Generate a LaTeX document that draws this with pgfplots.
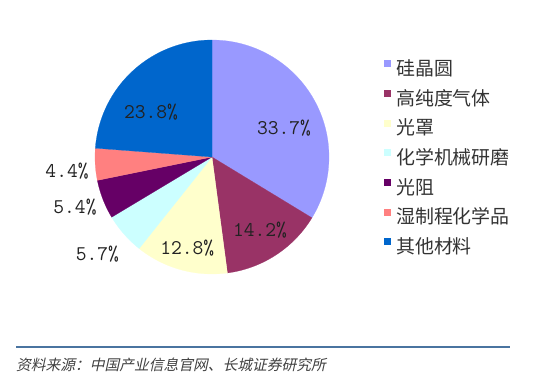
\documentclass[border=0pt]{standalone}
\usepackage{fontspec}
\usepackage{pgfplots}
\usepackage{pgfplotstable}
\pgfplotsset{compat=1.18}
\newfontfamily\cjk{Noto Sans CJK SC}
\newfontfamily\cjkit{Noto Sans CJK SC}[FakeSlant=0.22]
\definecolor{pieA}{HTML}{9999FF}
\definecolor{pieB}{HTML}{993366}
\definecolor{pieC}{HTML}{FFFFCC}
\definecolor{pieD}{HTML}{CCFFFF}
\definecolor{pieE}{HTML}{660066}
\definecolor{pieF}{HTML}{FF8080}
\definecolor{pieG}{HTML}{0066CC}
\definecolor{labtext}{HTML}{222222}
\definecolor{legtext}{HTML}{333333}
\definecolor{srcline}{HTML}{4A74A0}
\definecolor{srctext}{HTML}{404040}
% label positions (axis units, pie radius = 1) and values
\pgfplotstableread{
x      y      lab
0.615  0.248  33.7
0.41   -0.624 14.2
-0.211 -0.78  12.8
-0.979 -0.829 5.7
-1.171 -0.427 5.4
-1.239 -0.120 4.4
-0.521 0.387  23.8
}\labeldata
\def\startang{90}
\newcommand\pieslice[3]{%
  \pgfmathsetmacro\endang{\startang-3.6*#1}%
  \edef\doplot{\noexpand\addplot[fill=#2, draw=#2, line width=0.2bp, domain=\endang:\startang, samples=90, variable=\noexpand\t] ({cos(\noexpand\t)},{sin(\noexpand\t)}) -- (axis cs:0,0) -- cycle;}%
  \doplot
  \addlegendentry{#3}%
  \global\let\startang\endang
}
\begin{document}
\begin{tikzpicture}
\useasboundingbox (0,0) rectangle (554bp,380bp);
\begin{axis}[
  at={(95bp,106bp)}, anchor=south west,
  scale only axis, width=234bp, height=234bp,
  xmin=-1, xmax=1, ymin=-1, ymax=1,
  hide axis, clip=false,
  legend image code/.code={\fill[#1] (0bp,4bp) rectangle (6bp,10bp); \path (12bp,7bp);},
  legend cell align=left,
  legend style={at={(axis description cs:1.235,0.9135)}, anchor=north west,
    draw=none, fill=none, inner sep=0pt, outer sep=0pt, row sep=10.6bp,
    font=\cjk\fontsize{19}{19}\selectfont, text=legtext,
    nodes={inner sep=0pt, text height=14bp, text depth=4bp}},
]
\pieslice{33.7}{pieA}{硅晶圆}
\pieslice{14.2}{pieB}{高纯度气体}
\pieslice{12.8}{pieC}{光罩}
\pieslice{5.7}{pieD}{化学机械研磨}
\pieslice{5.4}{pieE}{光阻}
\pieslice{4.4}{pieF}{湿制程化学品}
\pieslice{23.8}{pieG}{其他材料}
\addplot[forget plot, only marks, mark=none, point meta=explicit symbolic,
  nodes near coords={\pgfplotspointmeta\%}, nodes near coords align=center,
  every node near coord/.append style={font=\ttfamily\fontsize{21}{21}\selectfont, text=labtext, anchor=center, inner sep=0pt}]
  table[x=x, y=y, meta=lab] \labeldata;
\end{axis}
\draw[line width=2.7bp, color=srcline] (16bp,33bp) -- (510bp,33bp);
\node[anchor=west, inner sep=0pt, font=\cjkit\fontsize{14.8}{15}\selectfont, text=srctext] at (16bp,15bp) {资料来源：中国产业信息官网、长城证券研究所};
\end{tikzpicture}
\end{document}
